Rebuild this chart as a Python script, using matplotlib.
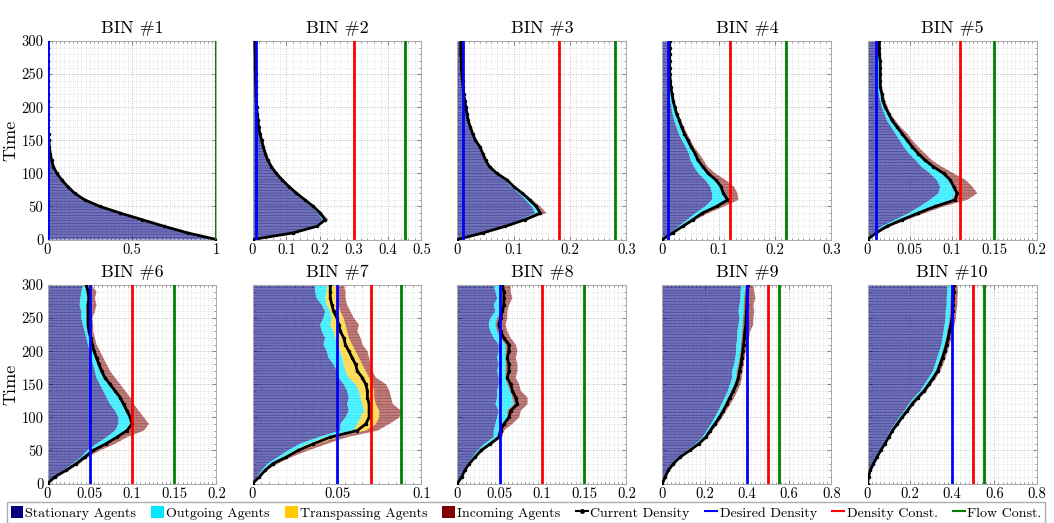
import numpy as np
import matplotlib
matplotlib.use("Agg")
import matplotlib.pyplot as plt
from matplotlib.patches import Patch
from matplotlib.lines import Line2D
from matplotlib.ticker import MultipleLocator, FuncFormatter

plt.rcParams["font.family"] = ["cmr10", "DejaVu Serif"]
plt.rcParams["axes.formatter.use_mathtext"] = True
plt.rcParams["mathtext.fontset"] = "cm"
plt.rcParams["hatch.linewidth"] = 0.35

# time samples (every 10 steps)
time = list(range(0, 301, 10))

# right edge of each stacked layer: stationary | outgoing | transpassing | incoming, plus current density
b1_stat = [0.99, 0.82, 0.68, 0.55, 0.42, 0.30, 0.215, 0.155, 0.115, 0.082, 0.053, 0.034, 0.023, 0.015, 0.010, 0.007,
           0.005, 0.004, 0.003, 0.002, 0.002, 0.002, 0.001, 0.001, 0.001, 0.001, 0.001, 0.001, 0.001, 0.001, 0.001]
b1_out = [1.0, 0.83, 0.69, 0.56, 0.43, 0.31, 0.22, 0.16, 0.12, 0.085, 0.055, 0.035, 0.024, 0.016, 0.011, 0.008,
          0.006, 0.004, 0.003, 0.003, 0.002, 0.002, 0.002, 0.001, 0.001, 0.001, 0.001, 0.001, 0.001, 0.001, 0.001]
b1_dens = [1.0, 0.83, 0.69, 0.56, 0.43, 0.31, 0.22, 0.16, 0.12, 0.085, 0.055, 0.035, 0.024, 0.016, 0.011, 0.008,
           0.006, 0.004, 0.003, 0.003, 0.002, 0.002, 0.002, 0.001, 0.001, 0.001, 0.001, 0.001, 0.001, 0.001, 0.001]

b2_stat = [0.0, 0.115, 0.183, 0.207, 0.193, 0.174, 0.15, 0.126, 0.105, 0.085, 0.068, 0.054, 0.044, 0.037, 0.031, 0.026,
           0.021, 0.017, 0.015, 0.013, 0.012, 0.011, 0.010, 0.009, 0.009, 0.008, 0.008, 0.008, 0.007, 0.007, 0.007]
b2_out = [0.0, 0.119, 0.188, 0.213, 0.198, 0.178, 0.154, 0.129, 0.107, 0.087, 0.07, 0.056, 0.045, 0.038, 0.032, 0.027,
          0.022, 0.018, 0.016, 0.014, 0.012, 0.011, 0.010, 0.010, 0.009, 0.009, 0.008, 0.008, 0.008, 0.007, 0.007]
b2_inc = [0.0, 0.124, 0.196, 0.224, 0.206, 0.184, 0.158, 0.132, 0.11, 0.089, 0.072, 0.057, 0.046, 0.039, 0.033, 0.028,
          0.023, 0.019, 0.017, 0.015, 0.013, 0.012, 0.011, 0.010, 0.010, 0.009, 0.009, 0.009, 0.008, 0.008, 0.008]
b2_dens = [0.0, 0.12, 0.19, 0.215, 0.20, 0.18, 0.155, 0.13, 0.108, 0.088, 0.07, 0.056, 0.045, 0.038, 0.032, 0.027,
           0.022, 0.018, 0.016, 0.014, 0.012, 0.011, 0.010, 0.010, 0.009, 0.009, 0.008, 0.008, 0.008, 0.007, 0.007]

b3_stat = [0, 0.042, 0.08, 0.113, 0.138, 0.132, 0.121, 0.109, 0.095, 0.084, 0.067, 0.055, 0.048, 0.043, 0.038, 0.031,
           0.026, 0.022, 0.018, 0.016, 0.014, 0.012, 0.011, 0.01, 0.009, 0.008, 0.007, 0.007, 0.006, 0.006, 0.006]
b3_out = [0, 0.044, 0.084, 0.119, 0.146, 0.139, 0.127, 0.114, 0.099, 0.087, 0.069, 0.057, 0.05, 0.045, 0.04, 0.032,
          0.027, 0.023, 0.019, 0.017, 0.015, 0.013, 0.011, 0.01, 0.009, 0.008, 0.007, 0.007, 0.006, 0.006, 0.006]
b3_inc = [0, 0.047, 0.089, 0.126, 0.158, 0.147, 0.133, 0.119, 0.103, 0.09, 0.072, 0.059, 0.052, 0.047, 0.041, 0.033,
          0.028, 0.024, 0.02, 0.018, 0.016, 0.014, 0.012, 0.011, 0.01, 0.009, 0.008, 0.008, 0.007, 0.007, 0.007]
b3_dens = [0, 0.045, 0.085, 0.12, 0.147, 0.14, 0.128, 0.115, 0.1, 0.088, 0.07, 0.057, 0.05, 0.045, 0.04, 0.032,
           0.027, 0.023, 0.019, 0.017, 0.015, 0.013, 0.011, 0.01, 0.009, 0.008, 0.007, 0.007, 0.006, 0.006, 0.006]

b4_stat = [0, 0.014, 0.029, 0.044, 0.059, 0.076, 0.088, 0.088, 0.085, 0.076, 0.064, 0.056, 0.05, 0.047, 0.041, 0.035,
           0.029, 0.025, 0.021, 0.018, 0.016, 0.014, 0.013, 0.012, 0.011, 0.01, 0.01, 0.01, 0.01, 0.01, 0.01]
b4_out = [0, 0.017, 0.035, 0.053, 0.07, 0.092, 0.112, 0.106, 0.103, 0.094, 0.079, 0.07, 0.061, 0.056, 0.05, 0.044,
          0.038, 0.033, 0.029, 0.025, 0.021, 0.018, 0.017, 0.015, 0.014, 0.013, 0.013, 0.013, 0.013, 0.013, 0.013]
b4_inc = [0, 0.02, 0.041, 0.059, 0.082, 0.109, 0.135, 0.133, 0.127, 0.112, 0.094, 0.08, 0.073, 0.065, 0.056, 0.05,
          0.044, 0.038, 0.033, 0.028, 0.024, 0.02, 0.018, 0.016, 0.015, 0.014, 0.014, 0.014, 0.014, 0.014, 0.014]
b4_dens = [0, 0.018, 0.036, 0.054, 0.071, 0.096, 0.116, 0.108, 0.104, 0.095, 0.081, 0.072, 0.063, 0.058, 0.051, 0.045,
           0.039, 0.034, 0.03, 0.025, 0.022, 0.019, 0.017, 0.015, 0.014, 0.013, 0.013, 0.013, 0.013, 0.013, 0.013]

b5_stat = [0, 0.007, 0.017, 0.033, 0.049, 0.062, 0.074, 0.084, 0.086, 0.082, 0.074, 0.064, 0.057, 0.049, 0.043, 0.038,
           0.033, 0.028, 0.023, 0.02, 0.017, 0.015, 0.0135, 0.012, 0.012, 0.012, 0.012, 0.012, 0.012, 0.012, 0.012]
b5_out = [0, 0.009, 0.022, 0.039, 0.058, 0.078, 0.1, 0.104, 0.1, 0.096, 0.088, 0.076, 0.066, 0.058, 0.051, 0.045,
          0.039, 0.033, 0.028, 0.024, 0.02, 0.017, 0.016, 0.014, 0.014, 0.014, 0.014, 0.014, 0.014, 0.013, 0.013]
b5_inc = [0, 0.013, 0.027, 0.047, 0.068, 0.09, 0.118, 0.13, 0.124, 0.116, 0.102, 0.088, 0.076, 0.068, 0.06, 0.053,
          0.047, 0.039, 0.033, 0.027, 0.024, 0.021, 0.019, 0.017, 0.016, 0.016, 0.016, 0.016, 0.016, 0.015, 0.015]
b5_dens = [0, 0.01, 0.023, 0.041, 0.06, 0.08, 0.104, 0.106, 0.102, 0.098, 0.09, 0.078, 0.068, 0.06, 0.053, 0.047,
           0.041, 0.035, 0.029, 0.025, 0.021, 0.018, 0.017, 0.015, 0.015, 0.015, 0.015, 0.015, 0.014, 0.014, 0.014]

b6_stat = [0, 0.0067, 0.019, 0.03, 0.04, 0.047, 0.058, 0.07, 0.08, 0.084, 0.084, 0.08, 0.074, 0.07, 0.066, 0.062,
           0.058, 0.056, 0.054, 0.052, 0.05, 0.048, 0.046, 0.044, 0.042, 0.04, 0.04, 0.038, 0.039, 0.04, 0.042]
b6_out = [0, 0.008, 0.021, 0.034, 0.043, 0.052, 0.068, 0.08, 0.092, 0.098, 0.096, 0.092, 0.088, 0.084, 0.078, 0.072,
          0.066, 0.062, 0.059, 0.056, 0.054, 0.052, 0.05, 0.048, 0.047, 0.046, 0.046, 0.046, 0.047, 0.046, 0.044]
b6_inc = [0, 0.01, 0.025, 0.038, 0.048, 0.062, 0.08, 0.094, 0.114, 0.12, 0.114, 0.108, 0.102, 0.098, 0.092, 0.086,
          0.08, 0.074, 0.07, 0.066, 0.062, 0.058, 0.056, 0.054, 0.054, 0.053, 0.056, 0.058, 0.056, 0.058, 0.052]
b6_dens = [0, 0.0087, 0.022, 0.034, 0.044, 0.054, 0.069, 0.082, 0.094, 0.1, 0.098, 0.094, 0.09, 0.086, 0.08, 0.074,
           0.068, 0.064, 0.061, 0.058, 0.055, 0.053, 0.051, 0.049, 0.048, 0.048, 0.048, 0.048, 0.049, 0.048, 0.046]

b7_stat = [0, 0.0026, 0.0055, 0.009, 0.015, 0.021, 0.028, 0.039, 0.052, 0.052, 0.055, 0.057, 0.056, 0.057, 0.056, 0.054,
           0.051, 0.05, 0.048, 0.045, 0.044, 0.042, 0.043, 0.041, 0.04, 0.042, 0.043, 0.041, 0.038, 0.037, 0.037]
b7_out = [0, 0.003, 0.0065, 0.011, 0.018, 0.025, 0.033, 0.043, 0.06, 0.062, 0.064, 0.066, 0.065, 0.064, 0.063, 0.061,
          0.057, 0.055, 0.054, 0.053, 0.052, 0.05, 0.049, 0.048, 0.046, 0.047, 0.046, 0.044, 0.043, 0.044, 0.044]
b7_trans = [0, 0.0043, 0.008, 0.013, 0.021, 0.029, 0.039, 0.05, 0.067, 0.073, 0.075, 0.075, 0.073, 0.072, 0.072, 0.071,
            0.069, 0.067, 0.065, 0.063, 0.061, 0.059, 0.057, 0.056, 0.055, 0.054, 0.052, 0.051, 0.051, 0.05, 0.05]
b7_inc = [0, 0.0045, 0.0085, 0.015, 0.023, 0.033, 0.044, 0.056, 0.074, 0.081, 0.087, 0.088, 0.083, 0.082, 0.081, 0.079,
          0.073, 0.071, 0.07, 0.069, 0.068, 0.065, 0.064, 0.062, 0.063, 0.06, 0.058, 0.056, 0.055, 0.055, 0.054]
b7_dens = [0, 0.004, 0.0075, 0.012, 0.02, 0.027, 0.036, 0.046, 0.062, 0.067, 0.069, 0.069, 0.069, 0.068, 0.068, 0.067,
           0.065, 0.062, 0.061, 0.059, 0.057, 0.055, 0.054, 0.052, 0.051, 0.05, 0.048, 0.047, 0.046, 0.046, 0.046]

b8_stat = [0, 0.003, 0.007, 0.012, 0.018, 0.024, 0.032, 0.043, 0.043, 0.045, 0.047, 0.049, 0.045, 0.047, 0.047, 0.049,
           0.049, 0.047, 0.049, 0.047, 0.049, 0.049, 0.043, 0.039, 0.037, 0.039, 0.045, 0.043, 0.047, 0.045, 0.043]
b8_out = [0, 0.004, 0.008, 0.013, 0.02, 0.027, 0.036, 0.047, 0.049, 0.053, 0.059, 0.059, 0.067, 0.065, 0.063, 0.059,
          0.057, 0.057, 0.057, 0.057, 0.057, 0.057, 0.051, 0.047, 0.045, 0.047, 0.051, 0.051, 0.053, 0.053, 0.051]
b8_inc = [0, 0.0055, 0.0095, 0.015, 0.022, 0.031, 0.041, 0.053, 0.055, 0.065, 0.073, 0.075, 0.083, 0.083, 0.075, 0.073,
          0.069, 0.071, 0.071, 0.069, 0.071, 0.069, 0.063, 0.059, 0.057, 0.059, 0.059, 0.061, 0.065, 0.063, 0.063]
b8_dens = [0, 0.005, 0.0087, 0.014, 0.021, 0.028, 0.039, 0.049, 0.051, 0.055, 0.061, 0.063, 0.071, 0.069, 0.065, 0.063,
           0.059, 0.061, 0.061, 0.059, 0.061, 0.061, 0.055, 0.051, 0.049, 0.051, 0.053, 0.055, 0.055, 0.055, 0.053]

b9_stat = [0, 0.01, 0.024, 0.045, 0.075, 0.118, 0.158, 0.19, 0.21, 0.23, 0.248, 0.265, 0.28, 0.295, 0.31, 0.32,
           0.33, 0.33, 0.34, 0.345, 0.35, 0.35, 0.355, 0.355, 0.36, 0.365, 0.36, 0.365, 0.37, 0.37, 0.375]
b9_out = [0, 0.012, 0.027, 0.05, 0.081, 0.126, 0.168, 0.2, 0.222, 0.243, 0.264, 0.28, 0.296, 0.31, 0.326, 0.34,
          0.35, 0.352, 0.36, 0.365, 0.37, 0.372, 0.375, 0.378, 0.38, 0.382, 0.385, 0.385, 0.388, 0.39, 0.392]
b9_inc = [0, 0.014, 0.03, 0.056, 0.09, 0.138, 0.182, 0.215, 0.238, 0.262, 0.284, 0.302, 0.322, 0.34, 0.355, 0.37,
          0.376, 0.38, 0.385, 0.39, 0.395, 0.4, 0.41, 0.415, 0.43, 0.43, 0.435, 0.43, 0.44, 0.435, 0.43]
b9_dens = [0, 0.013, 0.028, 0.052, 0.084, 0.13, 0.172, 0.205, 0.226, 0.248, 0.27, 0.288, 0.305, 0.32, 0.336, 0.35,
           0.36, 0.365, 0.372, 0.376, 0.38, 0.384, 0.388, 0.39, 0.395, 0.396, 0.398, 0.4, 0.4, 0.402, 0.405]

b10_stat = [0, 0.004, 0.011, 0.024, 0.04, 0.055, 0.074, 0.092, 0.108, 0.13, 0.15, 0.175, 0.195, 0.22, 0.25, 0.27,
            0.29, 0.31, 0.32, 0.33, 0.34, 0.35, 0.355, 0.36, 0.365, 0.37, 0.37, 0.375, 0.375, 0.378, 0.378]
b10_out = [0, 0.005, 0.012, 0.027, 0.043, 0.06, 0.08, 0.098, 0.115, 0.138, 0.16, 0.185, 0.206, 0.232, 0.262, 0.283,
           0.305, 0.324, 0.335, 0.347, 0.356, 0.365, 0.372, 0.378, 0.385, 0.388, 0.39, 0.392, 0.393, 0.395, 0.395]
b10_inc = [0, 0.006, 0.014, 0.03, 0.048, 0.066, 0.087, 0.106, 0.125, 0.15, 0.172, 0.198, 0.222, 0.25, 0.28, 0.302,
           0.325, 0.345, 0.358, 0.37, 0.38, 0.388, 0.398, 0.405, 0.412, 0.418, 0.42, 0.425, 0.425, 0.428, 0.425]
b10_dens = [0, 0.005, 0.013, 0.028, 0.045, 0.062, 0.082, 0.1, 0.118, 0.141, 0.163, 0.188, 0.21, 0.238, 0.268, 0.29,
            0.312, 0.332, 0.343, 0.355, 0.365, 0.374, 0.382, 0.388, 0.395, 0.4, 0.403, 0.405, 0.406, 0.407, 0.408]

# reference lines per bin
desired = [0.003, 0.01, 0.01, 0.01, 0.01, 0.05, 0.05, 0.05, 0.4, 0.4]
dens_const = [1.0, 0.3, 0.18, 0.12, 0.11, 0.1, 0.07, 0.1, 0.5, 0.5]
flow_const = [1.0, 0.45, 0.28, 0.22, 0.15, 0.15, 0.088, 0.15, 0.55, 0.55]

x_max = [1, 0.5, 0.3, 0.3, 0.2, 0.2, 0.1, 0.2, 0.8, 0.8]
x_major = [0.5, 0.1, 0.1, 0.1, 0.05, 0.05, 0.05, 0.05, 0.2, 0.2]
x_minor = [0.025, 0.02, 0.01, 0.01, 0.005, 0.005, 0.005, 0.005, 0.02, 0.02]

bins = [
    (b1_stat, b1_out, None, None, b1_dens),
    (b2_stat, b2_out, None, b2_inc, b2_dens),
    (b3_stat, b3_out, None, b3_inc, b3_dens),
    (b4_stat, b4_out, None, b4_inc, b4_dens),
    (b5_stat, b5_out, None, b5_inc, b5_dens),
    (b6_stat, b6_out, None, b6_inc, b6_dens),
    (b7_stat, b7_out, b7_trans, b7_inc, b7_dens),
    (b8_stat, b8_out, None, b8_inc, b8_dens),
    (b9_stat, b9_out, None, b9_inc, b9_dens),
    (b10_stat, b10_out, None, b10_inc, b10_dens),
]

layer_colors = ["#00007f", "#00e8ff", "#ffcc00", "#7f0000"]
layer_alpha = [0.55, 0.65, 0.6, 0.5]
layer_labels = ["Stationary Agents", "Outgoing Agents", "Transpassing Agents", "Incoming Agents"]

fig = plt.figure(figsize=(10.54, 5.23), dpi=100)
ax_w, ax_h = 0.1603, 0.3795
lefts = [0.0451, 0.2396, 0.4340, 0.6285, 0.8231]
bottoms = [0.5420, 0.0755]

fmt = FuncFormatter(lambda v, p: "%g" % round(v, 4))

for k, (stat, out, trans, inc, dens) in enumerate(bins):
    row, col = divmod(k, 5)
    ax = fig.add_axes([lefts[col], bottoms[row], ax_w, ax_h])
    t = np.array(time)
    layers = (stat, out, trans, inc)
    edges = [np.zeros(len(t))]
    for e in layers:
        edges.append(edges[-1] if e is None else np.array(e))
    for j in range(4):
        if layers[j] is None:
            continue
        ax.fill_betweenx(t, edges[j], edges[j + 1], facecolor=layer_colors[j], alpha=layer_alpha[j],
                         edgecolor=layer_colors[j], hatch="------", linewidth=0, zorder=2)
    ax.plot(dens, t, color="black", lw=2.0, marker=".", ms=3, zorder=4)
    ax.plot([desired[k]] * 2, [0, 300], color="#0000ff", lw=2, zorder=5)
    ax.plot([dens_const[k]] * 2, [0, 300], color="#ff0000", lw=2, zorder=5)
    ax.plot([flow_const[k]] * 2, [0, 300], color="#008000", lw=2, zorder=5)

    ax.set_xlim(0, x_max[k])
    ax.set_ylim(0, 300)
    ax.xaxis.set_major_locator(MultipleLocator(x_major[k]))
    ax.xaxis.set_minor_locator(MultipleLocator(x_minor[k]))
    ax.yaxis.set_major_locator(MultipleLocator(50))
    ax.yaxis.set_minor_locator(MultipleLocator(10))
    ax.xaxis.set_major_formatter(fmt)
    ax.yaxis.set_major_formatter(fmt)
    ax.grid(which="major", linestyle=":", color="#bdbdbd", linewidth=0.7, zorder=0)
    ax.grid(which="minor", linestyle=":", color="#dadada", linewidth=0.6, zorder=0)
    ax.set_axisbelow(True)
    ax.tick_params(which="both", direction="in", top=True, right=True, color="#888888",
                   labelsize=10.5, pad=3)
    ax.tick_params(which="major", length=3)
    ax.tick_params(which="minor", length=1.5)
    for s in ax.spines.values():
        s.set_color("#aaaaaa")
        s.set_linewidth(0.7)
    if col == 0:
        ax.set_ylabel("Time", fontsize=13, labelpad=2)
    else:
        ax.set_yticklabels([])
    ax.set_title("BIN #%d" % (k + 1), fontsize=13, pad=6)

handles = [Patch(facecolor=c, edgecolor="none") for c in layer_colors]
handles += [Line2D([], [], color="black", marker=".", ms=5, lw=1.5),
            Line2D([], [], color="#0000ff", lw=1.5),
            Line2D([], [], color="#ff0000", lw=1.5),
            Line2D([], [], color="#008000", lw=1.5)]
labels = layer_labels + ["Current Density", "Desired Density", "Density Const.", "Flow Const."]
fig.legend(handles, labels, loc="lower left", bbox_to_anchor=(0.0, -0.014), ncol=8, fontsize=10.1,
           handlelength=0.9, handleheight=1.0, handletextpad=0.15, columnspacing=1.08,
           frameon=True, fancybox=False, edgecolor="#999999", borderpad=0.25)

fig.savefig("out.png", dpi=100)
